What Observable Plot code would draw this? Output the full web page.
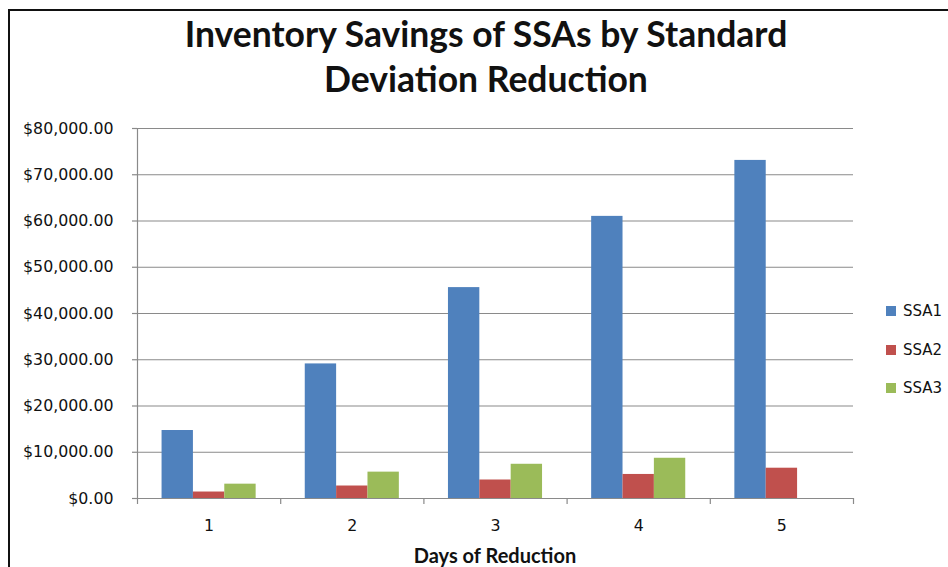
<!DOCTYPE html>
<html>
<head>
<meta charset="utf-8">
<script src="https://cdn.jsdelivr.net/npm/d3@7"></script>
<script src="https://cdn.jsdelivr.net/npm/@observablehq/plot@0.6"></script>
<style>
  html, body { margin: 0; padding: 0; background: #fff; }
  #wrap { position: relative; width: 948px; height: 567px; overflow: hidden; background: #fff; }
  #border { position: absolute; left: 8px; top: 9px; width: 960px; height: 600px; border-top: 2px solid #111; border-left: 2px solid #111; box-sizing: border-box; }
  #title { position: absolute; left: 0; top: 11px; width: 972px; text-align: center; font-family: Lato, sans-serif; font-weight: 700; font-size: 35.5px; line-height: 45px; color: #111; }
  #xlabel { position: absolute; left: 0; top: 543px; width: 990px; text-align: center; font-family: Lato, sans-serif; font-weight: 700; font-size: 20px; color: #111; }
  #legend { position: absolute; left: 886px; top: 300px; font-family: "DejaVu Sans", sans-serif; font-size: 15px; color: #111; }
  #legend div { height: 38.5px; line-height: 22px; white-space: nowrap; }
  #legend span.sw { display: inline-block; width: 10px; height: 10px; margin-right: 7px; vertical-align: 0px; }
  #wrap > svg { position: absolute; left: 0; top: 0; }
</style>
</head>
<body>
<div id="wrap"></div>
<script>
const days = [1, 2, 3, 4, 5];
const seriesNames = ["SSA1", "SSA2", "SSA3"];
const seriesColors = ["#4F81BD", "#C0504D", "#9BBB59"];
const ssa1 = [14700, 29100, 45600, 61000, 73100];
const ssa2 = [1400, 2700, 4000, 5200, 6550];
const ssa3 = [3100, 5700, 7400, 8700, null];
const yTicks = [0, 10000, 20000, 30000, 40000, 50000, 60000, 70000, 80000];
const titleText = "Inventory Savings of SSAs by Standard<br>Deviation Reduction";
const xTitle = "Days of Reduction";

const seriesValues = [ssa1, ssa2, ssa3];
const rows = [];
days.forEach((d, i) => {
  seriesNames.forEach((s, k) => {
    const v = seriesValues[k][i];
    if (v != null) rows.push({day: d, series: s, k, value: v});
  });
});

const groupW = 0.657;            // fraction of a day slot used by the bar group
const barW = groupW / seriesNames.length;
const boundaries = [days[0] - 0.5, ...days.map(d => d + 0.5)];

const grid = "#8a8a8a";
const chart = Plot.plot({
  width: 948,
  height: 567,
  marginLeft: 137,
  marginRight: 95,
  marginTop: 128,
  marginBottom: 69,
  style: {background: "transparent", fontFamily: "DejaVu Sans, sans-serif", fontSize: "15.8px", color: "#111"},
  x: {type: "linear", domain: [boundaries[0], boundaries[boundaries.length - 1]]},
  y: {domain: [0, 80000]},
  color: {domain: seriesNames, range: seriesColors},
  marks: [
    Plot.gridY(yTicks, {stroke: grid, strokeOpacity: 1, strokeWidth: 1.2}),
    Plot.rectY(rows, {
      x1: d => d.day - groupW / 2 + d.k * barW,
      x2: d => d.day - groupW / 2 + (d.k + 1) * barW,
      y1: 0,
      y2: "value",
      fill: "series"
    }),
    Plot.ruleX([boundaries[0]], {stroke: grid, strokeWidth: 1.2}),
    Plot.ruleY([0], {stroke: grid, strokeWidth: 1.2}),
    Plot.axisY(yTicks, {
      tickSize: 5,
      tickPadding: 19,
      stroke: grid,
      strokeWidth: 1.2,
      tickFormat: d => "$" + d3.format(",.2f")(d),
      fill: "#111",
      label: null
    }),
    Plot.axisX(boundaries, {tickSize: 6, stroke: grid, strokeWidth: 1.2, tickFormat: () => "", label: null}),
    Plot.axisX(days, {tickSize: 0, tickPadding: 21, tickFormat: d => String(d), fill: "#111", label: null})
  ]
});

const wrap = document.getElementById("wrap");
const border = document.createElement("div");
border.id = "border";
wrap.appendChild(border);
wrap.appendChild(chart);
const t = document.createElement("div");
t.id = "title";
t.innerHTML = titleText;
wrap.appendChild(t);
const xl = document.createElement("div");
xl.id = "xlabel";
xl.textContent = xTitle;
wrap.appendChild(xl);
const lg = document.createElement("div");
lg.id = "legend";
seriesNames.forEach((s, k) => {
  const row = document.createElement("div");
  const sw = document.createElement("span");
  sw.className = "sw";
  sw.style.background = seriesColors[k];
  row.appendChild(sw);
  row.appendChild(document.createTextNode(s));
  lg.appendChild(row);
});
wrap.appendChild(lg);
</script>
</body>
</html>
